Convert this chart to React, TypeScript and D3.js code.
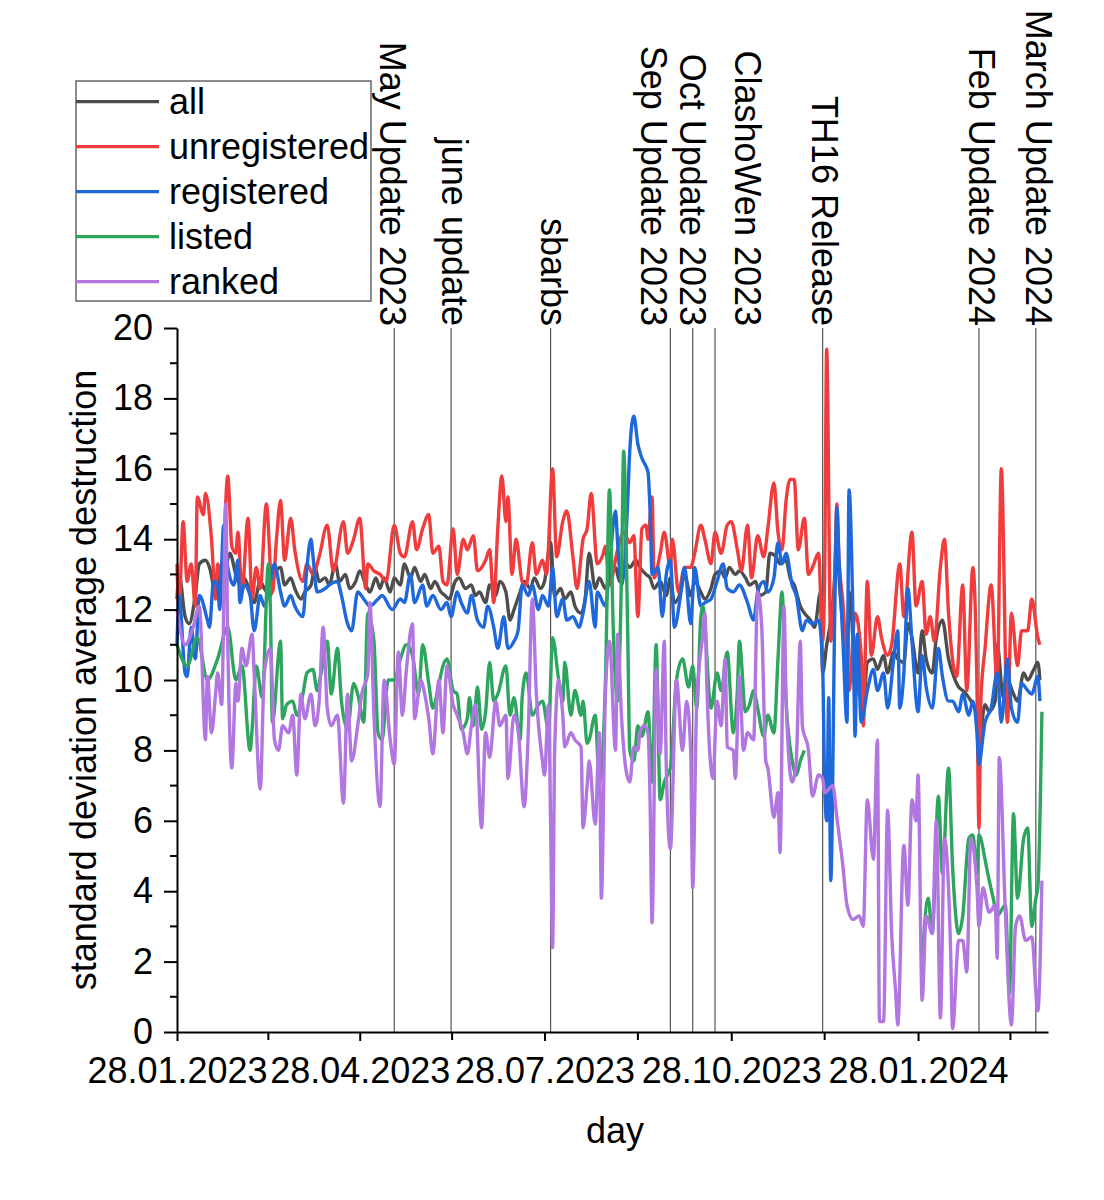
import * as d3 from "d3";
import { useEffect, useRef } from "react";

// x values are days since 28.01.2023, y values are std. deviation of average destruction
const START = Date.UTC(2023, 0, 28);

const categories = ["all", "unregistered", "registered", "listed", "ranked"];

const allData: [number, number | null][] = [
  [0, 12.3], [1, 13.0], [4, 11.8], [6, 11.6], [9, 12.4], [11, 13.3], [14, 13.4], [16, 13.2], [19, 12.5], [21, 12.9],
  [24, 13.2], [26, 13.6], [29, 13.0], [31, 12.7], [33, 12.9], [36, 12.5], [38, 12.2], [41, 12.8], [43, 12.6], [46, 12.4],
  [48, 13.0], [51, 13.2], [53, 12.7], [56, 12.9], [58, 12.6], [61, 12.3], [63, 12.5], [66, 12.7], [68, 13.2], [70, 12.8],
  [73, 12.9], [75, 12.7], [78, 13.3], [80, 12.8], [83, 13.0], [85, 12.6], [88, 12.8], [90, 13.1], [93, 12.7], [95, 12.5],
  [98, 12.9], [100, 12.6], [102, 12.9], [105, 12.5], [107, 12.9], [110, 12.7], [112, 13.3], [115, 12.9], [117, 13.2],
  [120, 12.8], [122, 13.0], [125, 12.6], [127, 12.8], [130, 12.5], [132, 12.4], [134, 12.3], [137, 12.8], [139, 12.9],
  [142, 12.6], [145, 12.7], [147, 12.4], [149, 12.5], [152, 12.2], [154, 12.7], [157, 12.4], [159, 12.8], [162, 12.5],
  [164, 11.7], [166, 12.0], [169, 12.5], [171, 12.8], [174, 12.6], [176, 12.9], [179, 12.6], [181, 12.8], [184, 13.9],
  [186, 12.4], [189, 12.6], [191, 12.3], [194, 12.5], [196, 12.1], [199, 11.9], [201, 12.3], [203, 13.6], [206, 12.6],
  [208, 12.9], [211, 12.6], [213, 12.9], [216, 13.2], [218, 12.8], [221, 13.3], [223, 13.2], [226, 13.4], [228, 13.2],
  [231, 13.0], [233, 12.9], [235, 12.6], [238, 12.8], [241, 12.4], [243, 12.9], [245, 12.2], [248, 12.5], [250, 13.0],
  [253, 12.4], [255, 12.8], [258, 12.5], [260, 12.3], [263, 12.6], [265, 13.0], [268, 13.1], [270, 12.9], [272, 13.2],
  [275, 13.0], [277, 13.1], [280, 12.9], [282, 12.7], [285, 12.8], [287, 12.4], [290, 12.5], [292, 13.6], [295, 13.5],
  [297, 13.3], [300, 13.4], [302, 12.9], [304, 12.7], [307, 12.1], [309, 11.9], [312, 11.7], [314, 11.5], [317, 12.5],
  [318, 10.2], [320, 11.0], [322, 11.7], [324, 13.0], [325, 14.5], [326, 13.0], [328, 11.5], [330, 9.5], [331, 12.5],
  [333, 11.0], [334, 9.5], [336, 10.8], [338, 9.2], [340, 10.5], [343, 10.6], [345, 10.3], [348, 10.7], [350, 10.2],
  [353, 10.8], [355, 10.6], [358, 10.5], [360, 11.6], [362, 11.2], [365, 10.2], [367, 11.4], [369, 10.6], [372, 10.2],
  [374, 11.2], [377, 11.7], [380, 10.6], [382, 10.2], [385, 9.8], [387, 9.7], [390, 9.5], [392, 9.3], [394, 9.0],
  [395, 8.3], [398, 9.3], [400, 9.1], [403, 9.4], [404, 11.0], [407, 9.5], [409, 10.0], [412, 9.6], [414, 9.4],
  [417, 10.2], [419, 10.0], [422, 10.3], [424, 10.5], [425, 10.0],
];

const unregisteredData: [number, number | null][] = [
  [0, 13.3], [1, 12.0], [3, 14.5], [5, 12.8], [7, 13.3], [9, 12.1], [10, 15.2], [13, 14.7], [14, 15.3], [17, 14.0],
  [19, 12.3], [20, 13.3], [22, 12.8], [25, 15.8], [27, 13.8], [29, 13.6], [30, 14.2], [32, 12.5], [35, 14.6], [37, 12.3],
  [39, 13.2], [41, 12.6], [44, 15.0], [47, 12.5], [49, 14.0], [51, 15.1], [53, 13.4], [56, 14.6], [58, 13.7], [62, 12.8],
  [64, 13.3], [67, 13.0], [70, 13.5], [74, 14.4], [77, 13.1], [82, 14.5], [84, 13.6], [87, 14.0], [90, 14.6], [93, 12.6],
  [94, 13.3], [97, 13.1], [100, 13.0], [103, 12.8], [107, 14.4], [110, 13.6], [112, 13.5], [116, 14.5], [118, 13.7],
  [121, 14.3], [124, 14.7], [126, 13.6], [129, 13.8], [131, 12.8], [133, 12.7], [136, 14.3], [138, 13.0], [141, 14.0],
  [143, 13.7], [146, 14.1], [148, 13.1], [152, 13.4], [154, 13.7], [156, 12.2], [158, 14.3], [160, 15.8], [162, 14.5],
  [163, 15.2], [165, 13.0], [167, 14.0], [170, 12.8], [172, 12.7], [175, 13.9], [177, 13.0], [180, 13.4], [182, 13.0],
  [185, 16.0], [187, 13.5], [190, 14.5], [192, 14.8], [195, 13.5], [197, 12.6], [200, 14.0], [202, 14.3], [204, 15.3],
  [207, 13.3], [210, 13.6], [211, 13.8], [213, 12.7], [217, 13.7], [220, 14.2], [223, 13.9], [225, 14.1], [227, 11.8],
  [229, 14.3], [231, 14.4], [232, 14.0], [234, 15.2], [235, 12.9], [238, 13.6], [240, 14.2], [243, 13.2], [244, 14.0],
  [247, 12.5], [250, 13.2], [253, 13.2], [255, 13.6], [258, 14.4], [260, 14.0], [263, 13.3], [265, 14.2], [268, 13.6],
  [271, 14.4], [273, 14.5], [276, 13.7], [278, 13.1], [281, 14.4], [283, 12.9], [286, 14.1], [289, 13.5], [291, 14.3],
  [294, 15.6], [296, 14.2], [298, 13.7], [300, 15.1], [302, 15.7], [304, 15.7], [306, 13.7], [309, 14.6], [311, 13.0],
  [313, 13.2], [316, 13.6], [318, 11.1], [319, 13.0], [320, 19.4], [322, 11.1], [324, 13.0], [325, 15.0], [326, 13.5],
  [328, 12.2], [331, 9.7], [334, 11.9], [337, 10.7], [338, 8.7], [340, 12.8], [342, 10.7], [345, 11.8], [347, 11.2],
  [350, 10.7], [352, 11.0], [356, 13.3], [358, 11.8], [362, 14.2], [364, 12.1], [367, 12.8], [369, 11.3], [371, 11.8],
  [373, 11.1], [376, 13.2], [378, 14.0], [380, 11.9], [384, 10.1], [387, 12.7], [389, 9.7], [392, 13.2], [394, 9.8],
  [395, 5.8], [396, 9.5], [398, 10.9], [401, 12.7], [404, 9.9], [406, 16.0], [409, 8.8], [411, 11.9], [414, 10.4],
  [416, 11.4], [419, 11.4], [421, 12.3], [424, 11.2], [425, 11.0],
];

const registeredData: [number, number | null][] = [
  [0, 11.0], [1, 12.4], [4, 10.2], [5, 10.1], [7, 11.5], [9, 10.6], [11, 12.4], [15, 11.7], [16, 11.5], [18, 12.8],
  [20, 12.7], [21, 12.0], [23, 14.4], [25, 13.2], [28, 12.7], [30, 13.4], [31, 12.2], [33, 12.7], [36, 12.4], [38, 11.4],
  [41, 12.4], [43, 12.1], [46, 12.8], [48, 13.3], [51, 12.5], [53, 12.1], [56, 12.4], [58, 12.1], [62, 11.8], [64, 13.2],
  [66, 14.0], [67, 13.5], [69, 12.5], [73, 12.6], [75, 12.7], [79, 12.8], [81, 12.4], [84, 11.6], [86, 11.4], [89, 12.5],
  [92, 12.3], [95, 12.1], [99, 12.3], [101, 12.4], [106, 12.0], [110, 12.3], [112, 12.2], [115, 13.0], [117, 12.2],
  [121, 12.7], [123, 12.1], [126, 12.4], [130, 12.0], [133, 12.2], [135, 11.8], [138, 12.5], [140, 12.2], [143, 11.9],
  [145, 12.4], [148, 11.7], [151, 11.5], [153, 12.1], [156, 11.5], [158, 10.9], [161, 11.8], [163, 10.9], [166, 11.1],
  [168, 11.4], [170, 12.7], [173, 12.4], [175, 12.7], [178, 12.0], [180, 12.4], [183, 12.1], [185, 13.2], [187, 11.8],
  [190, 12.3], [192, 11.7], [195, 11.8], [198, 11.5], [200, 11.9], [203, 12.8], [206, 11.5], [207, 12.5], [211, 12.1],
  [213, 13.2], [216, 14.8], [217, 13.9], [219, 12.7], [222, 15.1], [223, 16.5], [225, 17.5], [227, 16.7], [229, 16.3],
  [232, 15.9], [233, 14.8], [234, 13.0], [237, 13.2], [239, 11.8], [241, 13.0], [243, 13.4], [245, 11.5], [248, 12.4],
  [250, 13.2], [253, 11.6], [255, 13.2], [258, 12.1], [260, 12.2], [263, 12.3], [266, 12.8], [269, 13.3], [271, 12.6],
  [274, 12.5], [277, 12.7], [281, 12.2], [284, 11.7], [286, 12.5], [289, 12.8], [291, 12.5], [294, 12.9], [296, 13.9],
  [298, 13.3], [300, 13.6], [303, 12.7], [305, 12.4], [308, 11.4], [310, 11.7], [313, 11.6], [316, 11.7], [318, 10.4],
  [319, 7.0], [320, 6.0], [321, 9.5], [322, 4.3], [324, 12.0], [325, 14.9], [326, 13.5], [328, 11.1], [330, 8.8],
  [331, 15.4], [333, 11.6], [334, 8.4], [335, 11.3], [337, 8.8], [340, 9.7], [343, 10.3], [345, 9.7], [348, 10.2],
  [350, 9.2], [353, 10.6], [355, 11.4], [356, 9.2], [358, 10.2], [360, 12.6], [362, 11.1], [365, 9.1], [367, 10.7],
  [369, 9.8], [372, 9.2], [375, 10.9], [377, 10.1], [380, 9.4], [382, 9.4], [385, 9.1], [387, 9.6], [390, 9.0],
  [392, 9.4], [394, 8.5], [395, 7.6], [397, 8.4], [398, 8.8], [401, 9.2], [404, 10.2], [406, 8.8], [409, 10.6],
  [411, 9.2], [414, 8.8], [416, 9.9], [419, 9.7], [421, 9.6], [424, 10.1], [425, 9.4],
];

const listedData: [number, number | null][] = [
  [0, 11.0], [5, 10.4], [10, 11.2], [15, 10.0], [20, 10.6], [25, 11.5], [29, 10.0], [32, 10.4], [36, 8.0], [37, 8.6],
  [39, 10.4], [42, 9.5], [45, 13.3], [46, 12.0], [47, 8.8], [51, 11.1], [52, 8.9], [54, 9.3], [57, 9.4], [59, 9.0],
  [62, 9.6], [64, 10.2], [67, 10.3], [69, 9.7], [71, 10.2], [74, 11.1], [76, 9.6], [79, 10.9], [81, 9.4], [84, 8.6],
  [87, 9.9], [89, 9.6], [92, 8.8], [94, 11.9], [97, 11.1], [99, 8.5], [101, 8.3], [104, 10.0], [107, 10.0], [110, 10.6],
  [113, 11.0], [116, 10.7], [119, 9.6], [121, 11.0], [124, 9.9], [126, 9.2], [129, 9.9], [131, 10.4], [133, 10.6],
  [136, 9.7], [138, 9.6], [140, 8.6], [143, 8.9], [144, 9.5], [146, 8.7], [148, 9.8], [150, 8.6], [152, 9.1], [154, 10.5],
  [156, 9.4], [158, 9.6], [162, 10.4], [164, 9.0], [166, 9.5], [169, 8.3], [170, 9.5], [172, 10.2], [175, 9.0], [178, 9.3],
  [180, 9.4], [183, 8.6], [185, 11.2], [188, 10.0], [190, 9.4], [191, 10.5], [194, 9.0], [196, 9.7], [199, 9.0], [200, 9.4],
  [202, 8.2], [203, 8.3], [206, 9.0], [208, 7.1], [211, 9.9], [213, 15.4], [215, 11.2], [217, 9.4], [219, 13.2],
  [220, 16.5], [222, 11.3], [223, 8.0], [225, 7.7], [227, 8.7], [229, 8.4], [232, 9.1], [234, 7.1], [236, 11.0],
  [238, 6.6], [240, 7.1], [243, 7.5], [246, 10.0], [249, 10.6], [252, 9.8], [254, 10.4], [256, 9.2], [258, 11.8],
  [259, 12.1], [263, 9.2], [266, 10.2], [268, 9.7], [271, 10.8], [274, 8.5], [276, 9.7], [277, 11.1], [280, 9.1],
  [282, 9.3], [284, 9.7], [286, 9.2], [289, 8.4], [291, 9.0], [294, 8.5], [296, 10.6], [298, 12.5], [300, 9.4],
  [303, 7.7], [305, 7.3], [307, 7.7], [309, 8.0], [330, null],
  [367, 2.0], [370, 3.8], [372, 2.8], [375, 6.7], [377, 4.5], [380, 7.5], [382, 4.7], [385, 2.8], [387, 3.3], [390, 5.5],
  [392, 5.6], [394, 4.5], [395, 5.6], [398, 4.9], [399, 4.6], [402, 3.8], [404, 3.3], [408, 3.6], [410, 1.1], [412, 6.2],
  [414, 3.8], [417, 5.5], [419, 5.8], [421, 3.0], [423, 3.8], [424, 4.1], [426, 9.1],
];

const rankedData: [number, number | null][] = [
  [0, 12.0], [4, 11.0], [8, 11.5], [11, 12.1], [14, 8.3], [15, 10.1], [17, 8.5], [19, 9.6], [20, 10.2], [22, 9.3],
  [24, 15.0], [25, 11.1], [27, 7.5], [29, 9.9], [30, 9.4], [32, 10.9], [34, 10.4], [37, 11.3], [38, 10.2], [41, 6.9],
  [43, 10.2], [46, 10.9], [48, 8.3], [50, 8.0], [52, 8.7], [55, 8.5], [57, 9.0], [59, 7.3], [61, 9.6], [63, 8.9],
  [66, 9.6], [68, 8.7], [70, 9.4], [72, 11.5], [74, 9.2], [76, 8.7], [79, 9.0], [82, 6.5], [84, 9.6], [86, 7.7],
  [89, 8.7], [91, 9.6], [94, 10.2], [95, 12.2], [97, 9.0], [100, 6.4], [102, 10.0], [105, 8.3], [107, 7.6], [109, 10.8],
  [111, 9.0], [113, 10.3], [116, 11.6], [117, 8.9], [120, 10.0], [122, 9.6], [124, 8.9], [126, 7.9], [129, 10.0],
  [131, 8.5], [133, 10.4], [136, 9.3], [138, 9.0], [141, 8.5], [143, 7.9], [145, 8.7], [147, 9.3], [150, 5.8], [152, 8.5],
  [154, 7.8], [157, 9.4], [159, 8.7], [162, 9.0], [163, 7.2], [166, 9.0], [168, 8.6], [171, 6.4], [173, 8.5], [175, 12.3],
  [177, 9.6], [180, 7.7], [181, 7.3], [183, 9.3], [184, 6.0], [185, 2.4], [186, 8.0], [188, 10.0], [190, 9.0], [191, 8.1],
  [194, 8.5], [196, 8.3], [199, 8.1], [200, 5.8], [202, 7.0], [203, 7.7], [206, 5.9], [208, 8.5], [209, 3.8], [211, 9.6],
  [213, 11.1], [216, 8.0], [217, 11.3], [219, 8.9], [221, 7.5], [223, 7.1], [225, 8.1], [227, 8.0], [228, 8.5],
  [230, 8.7], [232, 8.5], [233, 6.6], [234, 3.1], [236, 10.3], [238, 7.9], [240, 11.1], [241, 7.5], [243, 5.2],
  [246, 10.0], [249, 8.0], [251, 9.4], [253, 8.0], [254, 4.1], [256, 9.4], [259, 11.3], [260, 11.9], [261, 9.8],
  [264, 7.2], [266, 9.4], [268, 8.7], [270, 10.6], [271, 8.1], [274, 8.0], [275, 7.2], [277, 10.1], [279, 8.0],
  [281, 8.5], [284, 8.3], [286, 12.5], [288, 11.5], [290, 7.7], [291, 7.5], [294, 6.1], [296, 6.8], [297, 5.1],
  [299, 12.1], [300, 9.4], [303, 7.1], [305, 7.7], [307, 11.1], [308, 8.7], [311, 8.0], [313, 6.7], [316, 7.3],
  [318, 7.2], [319, 6.8], [323, 7.0], [325, 6.1], [328, 4.7], [330, 3.6], [333, 3.2], [336, 3.3], [338, 3.0], [340, 6.6],
  [343, 4.9], [345, 8.3], [346, 0.3], [348, 0.3], [350, 6.3], [352, 2.8], [354, 1.1], [355, 0.2], [358, 5.3], [360, 3.6],
  [362, 6.6], [364, 6.0], [365, 7.3], [367, 0.9], [369, 3.3], [372, 2.8], [374, 6.0], [376, 0.4], [378, 5.5], [381, 2.4],
  [382, 0.1], [385, 2.6], [387, 2.6], [389, 1.7], [391, 5.5], [394, 4.1], [395, 3.0], [397, 4.1], [400, 3.4], [403, 3.6],
  [404, 2.1], [405, 7.8], [408, 3.4], [411, 0.2], [413, 3.0], [415, 3.3], [418, 2.6], [421, 2.7], [424, 0.6], [426, 4.3],
];

const seriesData = [allData, unregisteredData, registeredData, listedData, rankedData];

const events = [
  { label: "May Update 2023", date: "2023-05-15" },
  { label: "june update", date: "2023-06-12" },
  { label: "sbarbs", date: "2023-07-31" },
  { label: "Sep Update 2023", date: "2023-09-28" },
  { label: "Oct Update 2023", date: "2023-10-09" },
  { label: "ClashoWen 2023", date: "2023-10-20" },
  { label: "TH16 Release", date: "2023-12-12" },
  { label: "Feb Update 2024", date: "2024-02-27" },
  { label: "March Update 2024", date: "2024-03-26" },
];

const xTickDates = ["2023-01-28", "2023-04-28", "2023-07-28", "2023-10-28", "2024-01-28", "2024-04-28"];
const yTicks = [0, 2, 4, 6, 8, 10, 12, 14, 16, 18, 20];

export default function App() {
  const ref = useRef<SVGSVGElement>(null);

  useEffect(() => {
    if (!ref.current) return;
    const el = ref.current;
    d3.select(el).selectAll("*").remove();

    const W = 1104;
    const H = 1200;
    const font = "'Liberation Sans', Arial, sans-serif";
    const colors = ["#4d4d4d", "#f03c3c", "#1f68dc", "#2ea55f", "#b276e0"];
    // horizontal nudges of the event labels, as placed in the original
    const labelShift = [-14, -9, -10, -29, -13, 20, -11, -10, -10];

    const svg = d3.select(el).attr("width", W).attr("height", H).attr("viewBox", `0 0 ${W} ${H}`);
    svg.append("rect").attr("width", W).attr("height", H).attr("fill", "#fff");

    const dayToDate = (d: number) => new Date(START + d * 86400000);
    const parse = d3.utcParse("%Y-%m-%d");

    const x = d3
      .scaleUtc()
      .domain([new Date(START), new Date(Date.UTC(2024, 3, 1))])
      .range([177, 1048]);
    const y = d3.scaleLinear().domain([0, 20]).range([1032, 328]);

    // event lines
    const ev = svg.append("g");
    ev.selectAll("line")
      .data(events)
      .join("line")
      .attr("x1", d => x(parse(d.date)!))
      .attr("x2", d => x(parse(d.date)!))
      .attr("y1", y(20))
      .attr("y2", y(0))
      .attr("stroke", "#555")
      .attr("stroke-width", 1.2);

    ev.selectAll("text")
      .data(events)
      .join("text")
      .attr("transform", (d, i) => `translate(${x(parse(d.date)!) + labelShift[i]},326) rotate(90)`)
      .attr("text-anchor", "end")
      .attr("font-family", font)
      .attr("font-size", 36)
      .attr("fill", "#000")
      .text(d => d.label);

    // series
    const line = d3
      .line<[number, number | null]>()
      .defined(d => d[1] != null)
      .x(d => x(dayToDate(d[0])))
      .y(d => y(d[1] as number))
      .curve(d3.curveMonotoneX);

    svg.append("g")
      .selectAll("path")
      .data(seriesData)
      .join("path")
      .attr("d", d => line(d))
      .attr("fill", "none")
      .attr("stroke", (_, i) => colors[i])
      .attr("stroke-width", 3.4)
      .attr("stroke-linejoin", "round");

    // y axis
    const yAxis = svg
      .append("g")
      .attr("transform", "translate(177,0)")
      .call(d3.axisLeft(y).tickValues(yTicks).tickSize(13).tickSizeOuter(0).tickPadding(11).tickFormat(d3.format("d")));
    svg.append("g")
      .selectAll("line")
      .data(d3.range(1, 20, 2))
      .join("line")
      .attr("x1", 177)
      .attr("x2", 170)
      .attr("y1", d => y(d))
      .attr("y2", d => y(d))
      .attr("stroke", "#000")
      .attr("stroke-width", 2);

    // x axis
    const majors = xTickDates.map(s => parse(s)!);
    const minors = d3.pairs(majors).map(([a, b]) => new Date((a.getTime() + b.getTime()) / 2));
    const xAxis = svg
      .append("g")
      .attr("transform", "translate(0,1032)")
      .call(
        d3.axisBottom(x)
          .tickValues(majors.filter(d => d <= x.domain()[1]))
          .tickSize(9)
          .tickSizeOuter(0)
          .tickPadding(16)
          .tickFormat(d => d3.utcFormat("%d.%m.%Y")(d as Date))
      );
    svg.append("g")
      .selectAll("line")
      .data(minors.filter(d => d <= x.domain()[1]))
      .join("line")
      .attr("x1", d => x(d))
      .attr("x2", d => x(d))
      .attr("y1", 1032)
      .attr("y2", 1040)
      .attr("stroke", "#000")
      .attr("stroke-width", 2);

    [yAxis, xAxis].forEach(a => {
      a.selectAll("path, line").attr("stroke", "#000").attr("stroke-width", 2);
      a.selectAll("text").attr("font-family", font).attr("font-size", 36).attr("fill", "#000");
    });

    // axis titles
    svg.append("text")
      .attr("transform", "translate(96,680) rotate(-90)")
      .attr("text-anchor", "middle")
      .attr("font-family", font)
      .attr("font-size", 36)
      .text("standard deviation average destruction");
    svg.append("text")
      .attr("x", 615)
      .attr("y", 1143)
      .attr("text-anchor", "middle")
      .attr("font-family", font)
      .attr("font-size", 36)
      .text("day");

    // legend
    const lg = svg.append("g");
    lg.append("rect")
      .attr("x", 76)
      .attr("y", 81)
      .attr("width", 295)
      .attr("height", 220)
      .attr("fill", "none")
      .attr("stroke", "#666")
      .attr("stroke-width", 1.5);
    const rows = lg
      .selectAll("g.row")
      .data(categories)
      .join("g")
      .attr("class", "row")
      .attr("transform", (_, i) => `translate(0,${101.7 + i * 45})`);
    rows.append("line")
      .attr("x1", 76)
      .attr("x2", 159)
      .attr("stroke", (_, i) => colors[i])
      .attr("stroke-width", 3.2);
    rows.append("text")
      .attr("x", 169)
      .attr("y", 12)
      .attr("font-family", font)
      .attr("font-size", 36)
      .attr("fill", "#000")
      .text(d => d);
  }, []);

  return (
    <div style={{ position: "absolute", left: 0, top: 0 }}>
      <svg ref={ref} style={{ display: "block" }} />
    </div>
  );
}
